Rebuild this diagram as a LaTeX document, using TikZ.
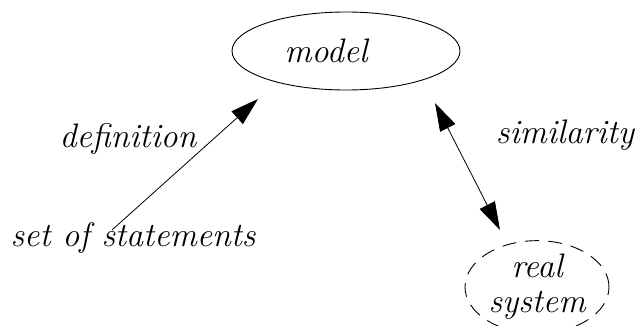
\documentclass[tikz,border=0pt]{standalone}
\usepackage{tikz}
\usetikzlibrary{arrows.meta,shapes.geometric}

\begin{document}
\begin{tikzpicture}[x=1pt,y=1pt,>={Triangle[length=28pt,width=17pt]},
    word/.style={font=\itshape\fontsize{34}{36}\selectfont,inner sep=0pt},
    blob/.style={ellipse,draw,line width=.9pt,inner sep=0pt,align=center}]
  \useasboundingbox (0,0) rectangle (637,325);

  \node[blob,word,minimum width=228pt,minimum height=78pt] (model) at (346,274)
    {model\hspace*{40pt}};
  \node[blob,word,dashed,dash pattern=on 14pt off 9pt,
    minimum width=144pt,minimum height=78pt] (real) at (537,38)
    {real\\[-1pt]system};

  \node[word] (sos) at (133,87) {set of statements};
  \node[word] (defn) at (128,186) {definition};
  \node[word] (simi) at (565,190) {similarity};

  \coordinate (defstart) at (112,95);
  \coordinate (deftip) at (258,226);
  \coordinate (simtop) at (435,222);
  \coordinate (simbot) at (500,95);

  \draw[->,line width=.8pt] (defstart) -- (deftip);
  \draw[<->,line width=.8pt] (simtop) -- (simbot);
\end{tikzpicture}
\end{document}
